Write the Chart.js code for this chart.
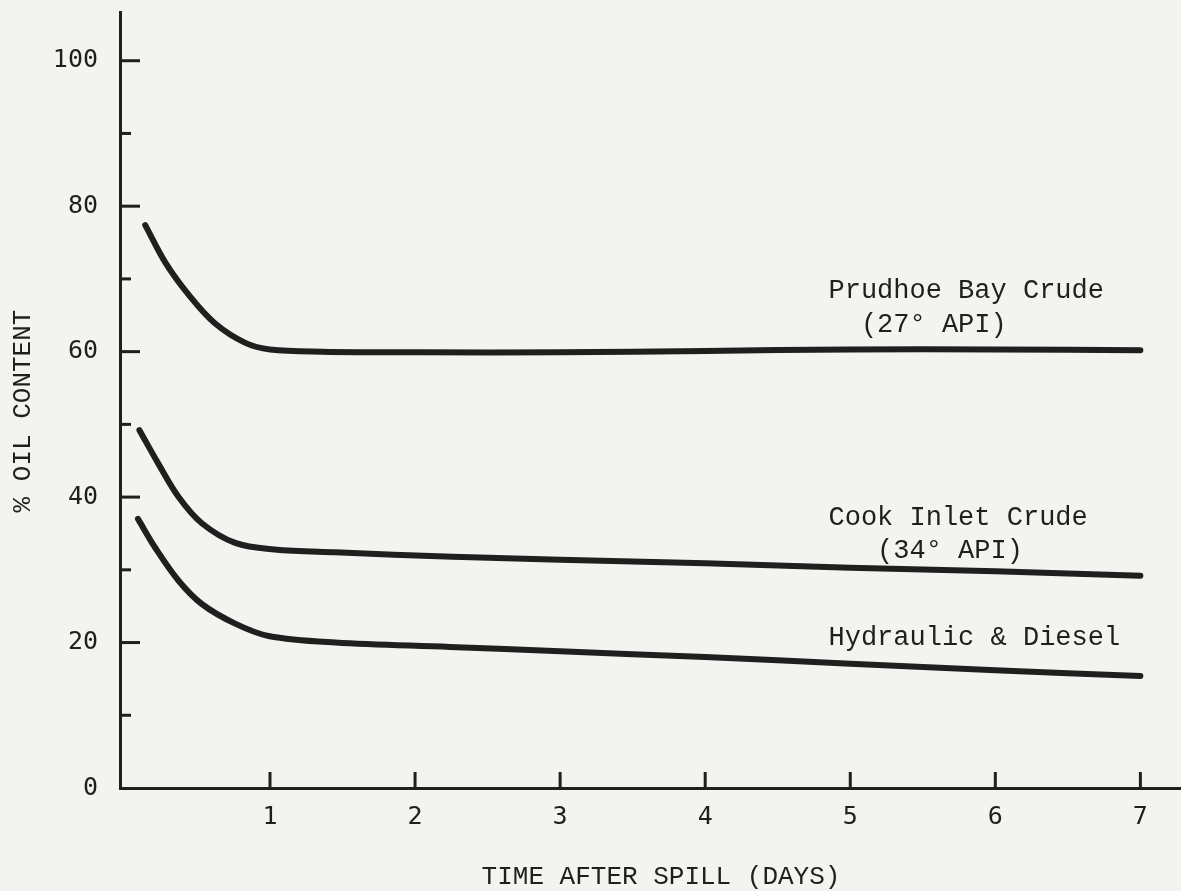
<!DOCTYPE html>
<html>
<head>
<meta charset="utf-8">
<script src="https://cdn.jsdelivr.net/npm/chart.js@4"></script>
<style>
  html, body { margin: 0; padding: 0; background: #f3f3ef; }
  #oilChart { display: block; }
</style>
</head>
<body>
<canvas id="oilChart" width="1181" height="891"></canvas>
<script>
// values (days after spill, % oil content)
const prudhoeDays = [0.14, 0.28, 0.44, 0.62, 0.83, 1.0, 1.36, 2.05, 3, 4, 5, 6, 7];
const prudhoeOil  = [77.4, 72.2, 67.8, 63.9, 61.2, 60.3, 60.0, 59.9, 59.9, 60.1, 60.3, 60.3, 60.2];

const cookDays = [0.10, 0.23, 0.37, 0.53, 0.76, 1.03, 1.45, 2.26, 3, 4, 5, 6, 7];
const cookOil  = [49.2, 44.6, 40.0, 36.4, 33.7, 32.8, 32.4, 31.8, 31.4, 30.9, 30.3, 29.8, 29.2];

const hydraulicDays = [0.09, 0.21, 0.37, 0.53, 0.76, 0.99, 1.45, 2.24, 3, 4, 5, 6, 7];
const hydraulicOil  = [37.0, 33.0, 28.5, 25.3, 22.6, 20.9, 20.0, 19.4, 18.8, 18.0, 17.1, 16.2, 15.4];

const dayTicks = [1, 2, 3, 4, 5, 6, 7];
const oilTicks = [10, 20, 30, 40, 50, 60, 70, 80, 90, 100];
const oilLabels = [0, 20, 40, 60, 80, 100];

// curve labels, anchored at [day, % oil] of each text line's baseline
const curveLabels = [
  { text: "Prudhoe Bay Crude", x: 4.85, y: 67.4 },
  { text: "  (27\u00B0 API)", x: 4.85, y: 62.7 },
  { text: "Cook Inlet Crude", x: 4.85, y: 36.2 },
  { text: "   (34\u00B0 API)", x: 4.85, y: 31.6 },
  { text: "Hydraulic & Diesel", x: 4.85, y: 19.7 }
];

const ink = "#1f1f1f";
const typeFont = "'Liberation Mono', 'Courier New', monospace";
const numFont = "'DejaVu Sans Mono', monospace";

function toPoints(xs, ys) {
  return xs.map((x, i) => ({ x: x, y: ys[i] }));
}

function curve(label, xs, ys) {
  return {
    label: label,
    data: toPoints(xs, ys),
    borderColor: ink,
    borderWidth: 6,
    borderCapStyle: "round",
    borderJoinStyle: "round",
    pointRadius: 0,
    fill: false,
    tension: 0.35
  };
}

// inward tick marks, axis titles and curve labels
const paperMarks = {
  id: "paperMarks",
  afterDraw(chart) {
    const c = chart.ctx;
    const area = chart.chartArea;
    const xs = chart.scales.x;
    const ys = chart.scales.y;
    c.save();
    c.strokeStyle = ink;
    c.lineWidth = 3;
    oilTicks.forEach(v => {
      const py = ys.getPixelForValue(v);
      const len = v % 20 === 0 ? 20 : 11;
      c.beginPath();
      c.moveTo(area.left, py);
      c.lineTo(area.left + len, py);
      c.stroke();
    });
    dayTicks.forEach(v => {
      const px = xs.getPixelForValue(v);
      c.beginPath();
      c.moveTo(px, area.bottom);
      c.lineTo(px, area.bottom - 16);
      c.stroke();
    });

    c.fillStyle = ink;
    c.font = "27px " + typeFont;
    c.textAlign = "left";
    c.textBaseline = "alphabetic";
    curveLabels.forEach(l => {
      c.fillText(l.text, xs.getPixelForValue(l.x), ys.getPixelForValue(l.y));
    });

    c.font = "26px " + typeFont;
    c.textAlign = "center";
    c.textBaseline = "middle";
    c.fillText("TIME AFTER SPILL (DAYS)", 661, 877);
    c.translate(23, 411);
    c.rotate(-Math.PI / 2);
    c.fillText("% OIL CONTENT", 0, 0);
    c.restore();
  }
};

const chart = new Chart(document.getElementById("oilChart"), {
  type: "line",
  data: {
    datasets: [
      curve("Prudhoe Bay Crude (27\u00B0 API)", prudhoeDays, prudhoeOil),
      curve("Cook Inlet Crude (34\u00B0 API)", cookDays, cookOil),
      curve("Hydraulic & Diesel", hydraulicDays, hydraulicOil)
    ]
  },
  options: {
    responsive: false,
    animation: false,
    layout: { padding: { top: 12, right: 0, bottom: 0, left: 0 } },
    plugins: {
      legend: { display: false },
      tooltip: { enabled: false }
    },
    scales: {
      x: {
        type: "linear",
        min: -0.034,
        max: 7.28,
        grid: { display: false, drawTicks: false },
        border: { display: true, color: ink, width: 3 },
        afterBuildTicks: s => { s.ticks = dayTicks.map(v => ({ value: v })); },
        afterFit: s => {
          s.height = 103;
          s.paddingLeft = 0;
          s.paddingRight = 0;
        },
        ticks: {
          padding: 14,
          color: ink,
          font: { family: numFont, size: 25 },
          maxRotation: 0,
          callback: v => String(v)
        }
      },
      y: {
        min: 0,
        max: 106.7,
        grid: { display: false, drawTicks: false },
        border: { display: true, color: ink, width: 3 },
        afterBuildTicks: s => { s.ticks = oilLabels.map(v => ({ value: v })); },
        afterFit: s => {
          s.width = 120;
          s.paddingTop = 0;
          s.paddingBottom = 0;
        },
        ticks: {
          padding: 22,
          color: ink,
          font: { family: numFont, size: 25 },
          callback: v => String(v)
        }
      }
    }
  },
  plugins: [paperMarks]
});
</script>
</body>
</html>
